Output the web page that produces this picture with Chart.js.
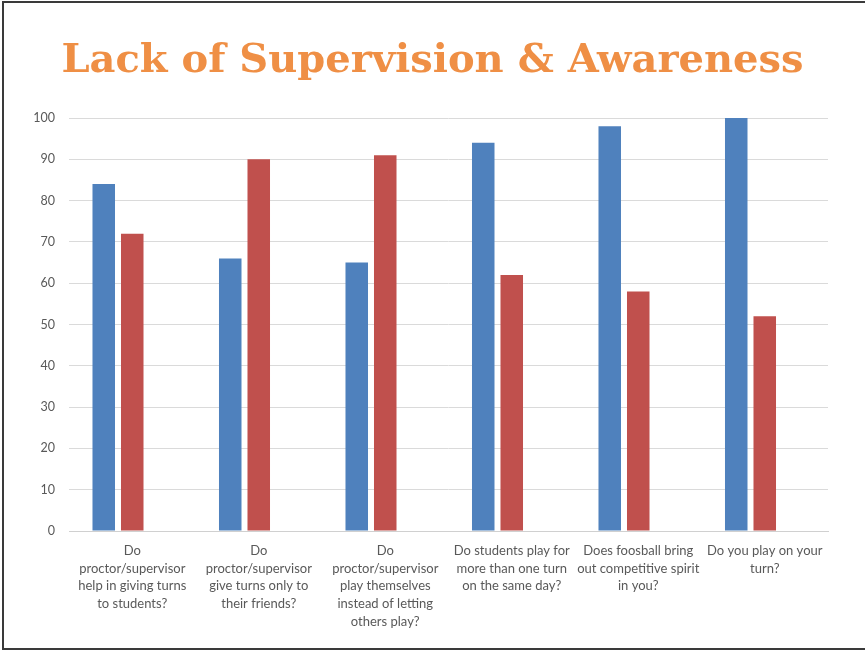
<!DOCTYPE html>
<html>
<head>
<meta charset="utf-8">
<title>Lack of Supervision &amp; Awareness</title>
<script src="https://cdn.jsdelivr.net/npm/chart.js@4.4.1/dist/chart.umd.min.js"></script>
<style>
    html, body {
        margin: 0;
        padding: 0;
        background: #ffffff;
    }
    #wrap {
        position: relative;
        width: 865px;
        height: 651px;
        overflow: hidden;
    }
    #frame {
        position: absolute;
        left: 2px;
        top: 1px;
        width: 880px;
        height: 649px;
        border: 2px solid #3a3a3a;
        box-sizing: border-box;
        pointer-events: none;
    }
    #surveyChart {
        position: absolute;
        left: 0;
        top: 0;
    }
</style>
</head>
<body>
<div id="wrap">
    <canvas id="surveyChart" width="865" height="651"></canvas>
    <div id="frame"></div>
</div>

<script>
// Question labels, one array of lines per category
const questions = [
    ["Do", "proctor/supervisor", "help in giving turns", "to students?"],
    ["Do", "proctor/supervisor", "give turns only to", "their friends?"],
    ["Do", "proctor/supervisor", "play themselves", "instead of letting", "others play?"],
    ["Do students play for", "more than one turn", "on the same day?"],
    ["Does foosball bring", "out competitive spirit", "in you?"],
    ["Do you play on your", "turn?"]
];

const series1 = [84, 66, 65, 94, 98, 100];
const series2 = [72, 90, 91, 62, 58, 52];
// third series is empty but still takes its slot in each group
const series3 = [null, null, null, null, null, null];

const yTicks = [0, 10, 20, 30, 40, 50, 60, 70, 80, 90, 100];

document.addEventListener('DOMContentLoaded', function () {
    initChart();
});

function initChart() {
    const ctx = document.getElementById('surveyChart');

    new Chart(ctx, {
        type: 'bar',
        data: {
            labels: questions,
            datasets: [
                {
                    label: 'Series 1',
                    data: series1,
                    backgroundColor: '#4F81BD',
                    borderWidth: 0,
                },
                {
                    label: 'Series 2',
                    data: series2,
                    backgroundColor: '#C0504D',
                    borderWidth: 0,
                },
                {
                    label: 'Series 3',
                    data: series3,
                    backgroundColor: '#9BBB59',
                    borderWidth: 0,
                },
            ],
        },
        options: {
            responsive: false,
            animation: false,
            categoryPercentage: 0.676,
            barPercentage: 0.79,
            layout: {
                padding: 0,
            },
            plugins: {
                legend: { display: false },
                tooltip: { enabled: false },
                title: {
                    display: true,
                    text: 'Lack of Supervision & Awareness',
                    color: '#EF8F45',
                    font: { family: '"DejaVu Serif"', size: 40, weight: 'bold', lineHeight: 1.2 },
                    padding: { top: 38, bottom: 32 },
                },
            },
            scales: {
                x: {
                    grid: { display: false },
                    border: { display: true, color: '#D0D0D0', width: 1 },
                    ticks: {
                        color: '#595959',
                        font: { family: 'Lato', size: 13, lineHeight: 1.36 },
                        padding: 3,
                        maxRotation: 0,
                        autoSkip: false,
                    },
                    afterFit: function (scale) {
                        scale.height = 120;
                    },
                },
                y: {
                    min: 0,
                    max: 100,
                    afterBuildTicks: function (scale) {
                        scale.ticks = yTicks.map(function (v) { return { value: v }; });
                    },
                    grid: { color: '#DADADA', lineWidth: 1, drawTicks: false },
                    border: { display: false },
                    ticks: {
                        color: '#595959',
                        font: { family: 'Lato', size: 12.5 },
                        padding: 14,
                    },
                    afterFit: function (scale) {
                        scale.width = 69;
                    },
                },
                // blank right margin, keeps the title centred on the whole slide
                yRight: {
                    position: 'right',
                    grid: { display: false },
                    border: { display: false },
                    ticks: { display: false },
                    afterFit: function (scale) {
                        scale.width = 37;
                    },
                },
            },
        },
    });
}
</script>
</body>
</html>
